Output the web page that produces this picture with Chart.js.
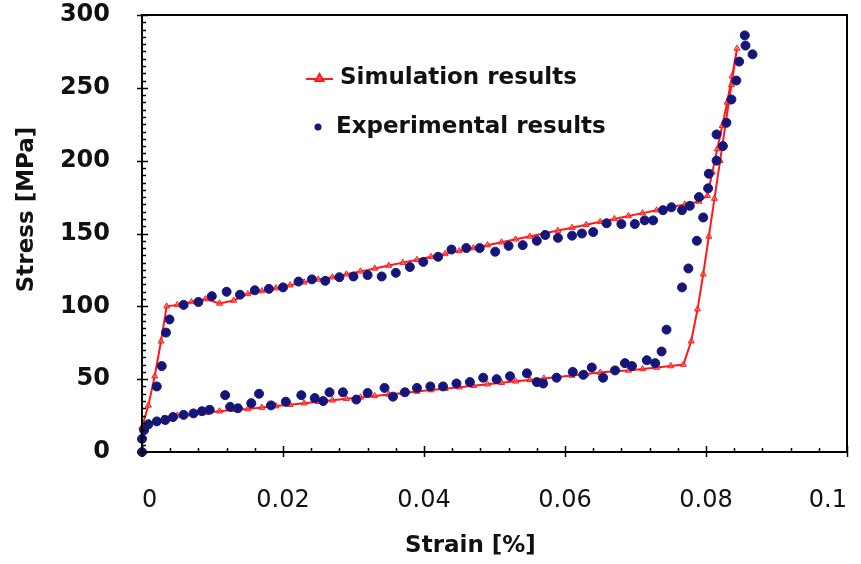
<!DOCTYPE html>
<html>
<head>
<meta charset="utf-8">
<script src="https://cdn.jsdelivr.net/npm/chart.js@4.4.1/dist/chart.umd.min.js"></script>
<style>
  html, body { margin: 0; padding: 0; background: #fff; }
</style>
</head>
<body>
<canvas id="stressStrainChart" width="861" height="564"></canvas>
<script>
// simulation loop: loading up the upper plateau, then unloading along the lower one
const simStrain = [
    0, 0.0009, 0.0018, 0.0027, 0.0035, 0.005, 0.007, 0.009, 0.011, 0.013,
    0.015, 0.017, 0.019, 0.021, 0.023, 0.025, 0.027, 0.029, 0.031, 0.033,
    0.035, 0.037, 0.039, 0.041, 0.043, 0.045, 0.047, 0.049, 0.051, 0.053,
    0.055, 0.057, 0.059, 0.061, 0.063, 0.065, 0.067, 0.069, 0.071, 0.073,
    0.075, 0.077, 0.079, 0.0802, 0.0809, 0.0816, 0.0823, 0.083, 0.0837, 0.0844,
    0.0836, 0.0828, 0.082, 0.0812, 0.0804, 0.0796, 0.0788, 0.0779, 0.0768,
    0.075, 0.073, 0.071, 0.069, 0.067, 0.065, 0.063, 0.061, 0.059, 0.057,
    0.055, 0.053, 0.051, 0.049, 0.047, 0.045, 0.043, 0.041, 0.039, 0.037,
    0.035, 0.033, 0.031, 0.029, 0.027, 0.025, 0.023, 0.021, 0.019, 0.017,
    0.015, 0.013, 0.011, 0.009, 0.007, 0.005, 0.003, 0.001, 0
];
const simStress = [
    17, 32, 52, 76, 100, 101, 103, 105, 102, 104,
    108.5, 110.5, 112.5, 114.5, 116.5, 118.5, 120, 122, 124, 126,
    128, 130, 132, 134, 136, 138, 140, 142, 144, 146,
    148, 150, 152, 154, 156, 158, 160, 162, 164, 166,
    168, 170, 172, 176, 192, 208, 224, 240, 258, 277,
    252, 226, 200, 174, 148, 122, 98, 76, 60,
    59, 58, 57, 56, 55.5, 54.5, 53.5, 52.5, 51.5, 50.5,
    49.5, 48.5, 47.5, 46.5, 45.5, 44.5, 43.5, 42.5, 41.5, 40.5,
    39.5, 38.5, 37.5, 36.5, 35.5, 34.5, 33.5, 32.5, 31.5, 30.5,
    29.5, 29, 28, 27, 26, 25, 23, 20, 17
];

// measured points
const expStrain = [
    0, 0, 0.0003, 0.0009, 0.0021, 0.0033, 0.0044, 0.0059, 0.0073, 0.0085,
    0.0096, 0.0118, 0.0125, 0.0136, 0.0155, 0.0166, 0.0183, 0.0204, 0.0226, 0.0245,
    0.0257, 0.0266, 0.0285, 0.0304, 0.032, 0.0344, 0.0356, 0.0373, 0.039, 0.0409,
    0.0427, 0.0446, 0.0465, 0.0484, 0.0503, 0.0522, 0.0546, 0.056, 0.0569, 0.0588,
    0.0611, 0.0626, 0.0638, 0.0654, 0.0671, 0.0685, 0.0695, 0.0716, 0.0728, 0.0737,
    0.0744, 0.0766, 0.0775, 0.0787, 0.0796, 0.0803, 0.0804, 0.0815, 0.0824, 0.0815,
    0.0829, 0.0836, 0.0843, 0.0847, 0.0855, 0.0856, 0.0866,
    0.0021, 0.0028, 0.0034, 0.0039, 0.0059, 0.008, 0.0099, 0.012, 0.0139, 0.016,
    0.018, 0.02, 0.0222, 0.0241, 0.026, 0.028, 0.03, 0.032, 0.034, 0.036,
    0.038, 0.0399, 0.042, 0.0439, 0.046, 0.0479, 0.0501, 0.052, 0.054, 0.056,
    0.0572, 0.059, 0.061, 0.0624, 0.064, 0.0659, 0.068, 0.0699, 0.0713, 0.0725,
    0.0739, 0.0751, 0.0766, 0.0777, 0.079
];
const expStress = [
    0, 9, 15, 19, 21, 22, 24, 25.5, 26.5, 28,
    29, 39, 31, 30, 33.5, 40, 32, 34.5, 39, 37,
    35, 41, 41, 36, 40.5, 44, 38, 41, 44, 45,
    45, 47, 48, 51, 50, 52, 54, 48, 47, 51,
    55, 53, 58, 51, 56, 61, 59, 63, 61, 69,
    84, 113, 126, 145, 161, 181, 191, 200, 210, 218,
    226, 242, 255, 268, 286, 279, 273,
    45, 59, 82, 91, 101, 103, 107, 110, 108, 111,
    112, 113, 117, 118.5, 117.5, 120, 120.5, 121.5, 120.5, 123,
    127, 130.5, 134, 139, 140, 140, 137.5, 141.5, 142, 145,
    149, 147, 148.5, 150, 151, 157, 156.5, 156.5, 159, 159,
    166, 168, 166, 169, 175
];

const xMin = 0, xMax = 0.1, xStep = 0.02;
const yMin = 0, yMax = 300, yStep = 50;

const labelFont = 'DejaVu Sans';
const simColor = '#ff1a1a';
const expColor = '#16167a';

const simPoints = simStrain.map((v, i) => ({ x: v, y: simStress[i] }));
const expPoints = expStrain.map((v, i) => ({ x: v, y: expStress[i] }));

// box, inward ticks and the legend inside the plot
const framePlugin = {
    id: 'frame',
    afterDraw(chart) {
        const { ctx, chartArea: a } = chart;
        const x = chart.scales.x, y = chart.scales.y;
        ctx.save();
        ctx.strokeStyle = '#000';
        ctx.lineWidth = 2;
        ctx.strokeRect(a.left, a.top, a.right - a.left, a.bottom - a.top);

        ctx.lineWidth = 1.5;
        ctx.beginPath();
        for (let v = yMin; v <= yMax; v += 5) {
            const py = Math.round(y.getPixelForValue(v)) + 0.5;
            const major = v % yStep === 0;
            ctx.moveTo(a.left - (major ? 5 : 0), py);
            ctx.lineTo(a.left + (major ? 6 : 4), py);
        }
        for (let i = 0; i <= 25; i++) {
            const px = Math.round(x.getPixelForValue(i * 0.004)) + 0.5;
            const major = i % 5 === 0;
            ctx.moveTo(px, a.bottom + (major ? 5 : 0));
            ctx.lineTo(px, a.bottom - (major ? 6 : 4));
        }
        ctx.stroke();

        // legend
        ctx.strokeStyle = simColor;
        ctx.lineWidth = 2;
        ctx.beginPath();
        ctx.moveTo(306, 79);
        ctx.lineTo(333, 79);
        ctx.stroke();
        ctx.fillStyle = 'rgba(255, 90, 90, 0.7)';
        ctx.beginPath();
        ctx.moveTo(319.5, 74);
        ctx.lineTo(323.5, 81);
        ctx.lineTo(315.5, 81);
        ctx.closePath();
        ctx.fill();
        ctx.stroke();

        ctx.fillStyle = expColor;
        ctx.beginPath();
        ctx.arc(318, 127, 3.5, 0, Math.PI * 2);
        ctx.fill();

        ctx.fillStyle = '#111';
        ctx.font = 'bold 23px ' + labelFont;
        ctx.textAlign = 'left';
        ctx.textBaseline = 'middle';
        ctx.fillText('Simulation results', 340, 78);
        ctx.fillText('Experimental results', 336, 127);
        ctx.restore();
    }
};

const ctx = document.getElementById('stressStrainChart').getContext('2d');

new Chart(ctx, {
    type: 'scatter',
    data: {
        datasets: [{
            label: 'Experimental results',
            data: expPoints,
            pointStyle: 'circle',
            pointRadius: 4.5,
            pointBackgroundColor: expColor,
            pointBorderColor: expColor,
            pointBorderWidth: 1,
            showLine: false,
            clip: false
        }, {
            label: 'Simulation results',
            data: simPoints,
            showLine: true,
            tension: 0,
            borderColor: simColor,
            borderWidth: 2,
            pointStyle: 'triangle',
            pointRadius: 3.5,
            pointBackgroundColor: 'rgba(255, 90, 90, 0.6)',
            pointBorderColor: simColor,
            pointBorderWidth: 1,
            clip: false
        }]
    },
    options: {
        responsive: false,
        animation: false,
        layout: { padding: { top: 15, right: 14, left: 0, bottom: 0 } },
        plugins: {
            legend: { display: false },
            tooltip: { enabled: false }
        },
        scales: {
            x: {
                type: 'linear',
                min: xMin,
                max: xMax,
                grid: { display: false, drawTicks: false },
                border: { display: false },
                afterFit: (scale) => {
                    scale.height = 112;
                    scale.paddingLeft = 0;
                    scale.paddingRight = 0;
                },
                ticks: {
                    stepSize: xStep,
                    align: 'inner',
                    padding: 34,
                    color: '#111',
                    font: { family: labelFont, size: 24 },
                    callback: (v) => String(Number(v.toFixed(2)))
                },
                title: {
                    display: true,
                    text: 'Strain [%]      ',
                    color: '#111',
                    font: { family: labelFont, size: 23, weight: '600' },
                    padding: { top: 0, bottom: 4 }
                }
            },
            y: {
                min: yMin,
                max: yMax,
                grid: { display: false, drawTicks: false },
                border: { display: false },
                afterFit: (scale) => {
                    scale.width = 142;
                    scale.paddingTop = 0;
                    scale.paddingBottom = 0;
                },
                ticks: {
                    stepSize: yStep,
                    padding: 32,
                    color: '#111',
                    font: { family: labelFont, size: 24, weight: 'bold' }
                },
                title: {
                    display: true,
                    text: '      Stress [MPa]',
                    color: '#111',
                    font: { family: labelFont, size: 23, weight: '600' },
                    padding: { top: 13, bottom: 0 }
                }
            }
        }
    },
    plugins: [framePlugin]
});
</script>
</body>
</html>
